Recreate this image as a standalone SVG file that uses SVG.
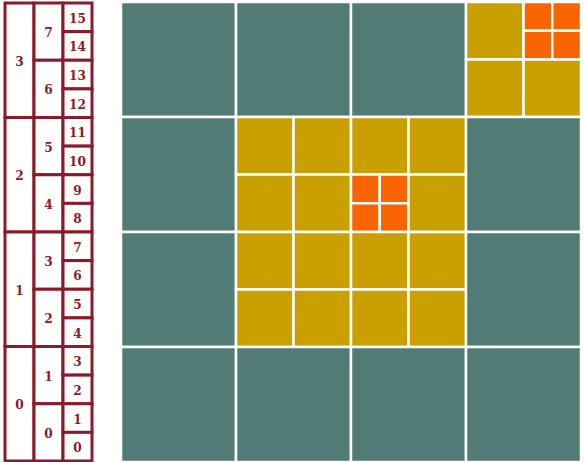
<svg xmlns="http://www.w3.org/2000/svg" width="585" height="462" viewBox="0 0 585 462">
<style>
.t{fill:#fff;stroke:#8b1a2b;stroke-width:3}
.l{font-family:"DejaVu Serif Condensed","DejaVu Serif",serif;font-stretch:condensed;font-weight:bold;font-size:13.5px;fill:#8b1a2b;text-anchor:middle;dominant-baseline:central}
.a{fill:#527b75;stroke:#fff;stroke-width:2.5}
.b{fill:#c9a000;stroke:#fff;stroke-width:2.5}
.c{fill:#f86400;stroke:#fff;stroke-width:2.5}
</style>
<rect width="585" height="462" fill="#fff"/>
<g id="tree">
<g id="t0-3"><rect class="t" x="5" y="3" width="29" height="114.5"/><text class="l" x="19.5" y="60.6">3</text></g>
<g id="t0-2"><rect class="t" x="5" y="117.5" width="29" height="114.5"/><text class="l" x="19.5" y="175.1">2</text></g>
<g id="t0-1"><rect class="t" x="5" y="232" width="29" height="114.5"/><text class="l" x="19.5" y="289.6">1</text></g>
<g id="t0-0"><rect class="t" x="5" y="346.5" width="29" height="114.5"/><text class="l" x="19.5" y="404.1">0</text></g>
<g id="t1-7"><rect class="t" x="34" y="3" width="29" height="57.25"/><text class="l" x="48.5" y="32">7</text></g>
<g id="t1-6"><rect class="t" x="34" y="60.25" width="29" height="57.25"/><text class="l" x="48.5" y="89.3">6</text></g>
<g id="t1-5"><rect class="t" x="34" y="117.5" width="29" height="57.25"/><text class="l" x="48.5" y="146.5">5</text></g>
<g id="t1-4"><rect class="t" x="34" y="174.75" width="29" height="57.25"/><text class="l" x="48.5" y="203.8">4</text></g>
<g id="t1-3"><rect class="t" x="34" y="232" width="29" height="57.25"/><text class="l" x="48.5" y="261">3</text></g>
<g id="t1-2"><rect class="t" x="34" y="289.25" width="29" height="57.25"/><text class="l" x="48.5" y="318.3">2</text></g>
<g id="t1-1"><rect class="t" x="34" y="346.5" width="29" height="57.25"/><text class="l" x="48.5" y="375.5">1</text></g>
<g id="t1-0"><rect class="t" x="34" y="403.75" width="29" height="57.25"/><text class="l" x="48.5" y="432.8">0</text></g>
<g id="t2-15"><rect class="t" x="63" y="3" width="29" height="28.625"/><text class="l" x="77.5" y="17.7">15</text></g>
<g id="t2-14"><rect class="t" x="63" y="31.625" width="29" height="28.625"/><text class="l" x="77.5" y="46.3">14</text></g>
<g id="t2-13"><rect class="t" x="63" y="60.25" width="29" height="28.625"/><text class="l" x="77.5" y="75">13</text></g>
<g id="t2-12"><rect class="t" x="63" y="88.875" width="29" height="28.625"/><text class="l" x="77.5" y="103.6">12</text></g>
<g id="t2-11"><rect class="t" x="63" y="117.5" width="29" height="28.625"/><text class="l" x="77.5" y="132.2">11</text></g>
<g id="t2-10"><rect class="t" x="63" y="146.125" width="29" height="28.625"/><text class="l" x="77.5" y="160.8">10</text></g>
<g id="t2-9"><rect class="t" x="63" y="174.75" width="29" height="28.625"/><text class="l" x="77.5" y="189.5">9</text></g>
<g id="t2-8"><rect class="t" x="63" y="203.375" width="29" height="28.625"/><text class="l" x="77.5" y="218.1">8</text></g>
<g id="t2-7"><rect class="t" x="63" y="232" width="29" height="28.625"/><text class="l" x="77.5" y="246.7">7</text></g>
<g id="t2-6"><rect class="t" x="63" y="260.625" width="29" height="28.625"/><text class="l" x="77.5" y="275.3">6</text></g>
<g id="t2-5"><rect class="t" x="63" y="289.25" width="29" height="28.625"/><text class="l" x="77.5" y="304">5</text></g>
<g id="t2-4"><rect class="t" x="63" y="317.875" width="29" height="28.625"/><text class="l" x="77.5" y="332.6">4</text></g>
<g id="t2-3"><rect class="t" x="63" y="346.5" width="29" height="28.625"/><text class="l" x="77.5" y="361.2">3</text></g>
<g id="t2-2"><rect class="t" x="63" y="375.125" width="29" height="28.625"/><text class="l" x="77.5" y="389.8">2</text></g>
<g id="t2-1"><rect class="t" x="63" y="403.75" width="29" height="28.625"/><text class="l" x="77.5" y="418.5">1</text></g>
<g id="t2-0"><rect class="t" x="63" y="432.375" width="29" height="28.625"/><text class="l" x="77.5" y="447.1">0</text></g>
</g>
<g id="grid">
<g id="r0">
<rect class="a" x="121" y="2" width="115" height="115"/>
<rect class="a" x="236" y="2" width="115" height="115"/>
<rect class="a" x="351" y="2" width="115" height="115"/>
<g id="r0c3">
<rect class="b" x="466" y="2" width="57.5" height="57.5"/>
<rect class="c" x="523.5" y="2" width="28.75" height="28.75"/>
<rect class="c" x="552.25" y="2" width="28.75" height="28.75"/>
<rect class="c" x="523.5" y="30.75" width="28.75" height="28.75"/>
<rect class="c" x="552.25" y="30.75" width="28.75" height="28.75"/>
<rect class="b" x="466" y="59.5" width="57.5" height="57.5"/>
<rect class="b" x="523.5" y="59.5" width="57.5" height="57.5"/>
</g>
</g>
<g id="r1">
<rect class="a" x="121" y="117" width="115" height="115"/>
<rect class="b" x="236" y="117" width="57.5" height="57.5"/>
<rect class="b" x="293.5" y="117" width="57.5" height="57.5"/>
<rect class="b" x="236" y="174.5" width="57.5" height="57.5"/>
<rect class="b" x="293.5" y="174.5" width="57.5" height="57.5"/>
<rect class="b" x="351" y="117" width="57.5" height="57.5"/>
<rect class="b" x="408.5" y="117" width="57.5" height="57.5"/>
<rect class="c" x="351" y="174.5" width="28.75" height="28.75"/>
<rect class="c" x="379.75" y="174.5" width="28.75" height="28.75"/>
<rect class="c" x="351" y="203.25" width="28.75" height="28.75"/>
<rect class="c" x="379.75" y="203.25" width="28.75" height="28.75"/>
<rect class="b" x="408.5" y="174.5" width="57.5" height="57.5"/>
<rect class="a" x="466" y="117" width="115" height="115"/>
</g>
<g id="r2">
<rect class="a" x="121" y="232" width="115" height="115"/>
<rect class="b" x="236" y="232" width="57.5" height="57.5"/>
<rect class="b" x="293.5" y="232" width="57.5" height="57.5"/>
<rect class="b" x="236" y="289.5" width="57.5" height="57.5"/>
<rect class="b" x="293.5" y="289.5" width="57.5" height="57.5"/>
<rect class="b" x="351" y="232" width="57.5" height="57.5"/>
<rect class="b" x="408.5" y="232" width="57.5" height="57.5"/>
<rect class="b" x="351" y="289.5" width="57.5" height="57.5"/>
<rect class="b" x="408.5" y="289.5" width="57.5" height="57.5"/>
<rect class="a" x="466" y="232" width="115" height="115"/>
</g>
<g id="r3">
<rect class="a" x="121" y="347" width="115" height="115"/>
<rect class="a" x="236" y="347" width="115" height="115"/>
<rect class="a" x="351" y="347" width="115" height="115"/>
<rect class="a" x="466" y="347" width="115" height="115"/>
</g>
</g>
</svg>
